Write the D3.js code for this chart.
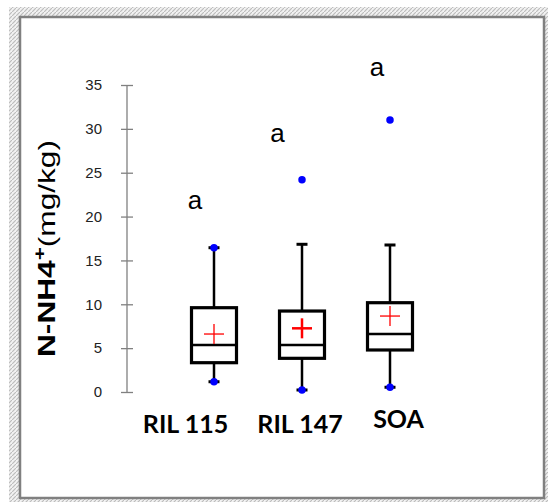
<!DOCTYPE html>
<html><head><meta charset="utf-8">
<script src="https://cdn.jsdelivr.net/npm/d3@7"></script>
<style>body{margin:0;background:#fff}svg{display:block}</style>
</head><body>
<script>
// ---- data ----
const categories = ["RIL 115", "RIL 147", "SOA"];
const q1 =          [3.34, 3.84, 4.79];
const median =      [5.36, 5.36, 6.61];
const q3 =          [9.61, 9.23, 10.18];
const mean =        [6.61, 7.26, 8.66];
const whiskerLow =  [1.17, 0.23, 0.54];
const whiskerHigh = [16.45, 16.84, 16.76];
const minVal =      [1.17, 0.23, 0.54];
const maxVal =      [16.45, 24.2, 31.0];
const letters =     ["a", "a", "a"];
const letterLevel = [20.9, 28.5, 36.0];
const yTicks =      [0, 5, 10, 15, 20, 25, 30, 35];

// ---- layout ----
const W = 548, H = 502;
const svg = d3.select("body").append("svg").attr("width", W).attr("height", H);

// hatched frame
const defs = svg.append("defs");
const pat = defs.append("pattern").attr("id", "hatch").attr("patternUnits", "userSpaceOnUse")
  .attr("width", 4).attr("height", 4);
pat.append("rect").attr("width", 4).attr("height", 4).attr("fill", "#f2f2f2");
pat.append("path").attr("d", "M-1,5 L5,-1").attr("stroke", "#bdbdbd").attr("stroke-width", 1.2);
svg.append("rect").attr("x", 9).attr("y", 7).attr("width", W - 9).attr("height", H - 7).attr("fill", "url(#hatch)");
svg.append("rect").attr("x", 20).attr("y", 17).attr("width", 524).attr("height", 481)
  .attr("fill", "#fff").attr("stroke", "#808080").attr("stroke-width", 2.5);

const y = d3.scaleLinear().domain([0, 35]).range([392, 85]);
const x = d3.scaleBand().domain(categories).range([170, 434]).paddingInner(0);
const bw = 45;
const cx = c => x(c) + x.bandwidth() / 2;

// y axis
const axisX = 127;
const gy = svg.append("g").attr("transform", `translate(${axisX},0)`)
  .call(d3.axisLeft(y).tickValues(yTicks).tickSize(6).tickPadding(19));
gy.select(".domain").attr("stroke", "#808080").attr("stroke-width", 1.3).attr("d", `M0,${y(0)}V${y(35)}`);
gy.selectAll(".tick line").attr("stroke", "#808080").attr("stroke-width", 1.3).attr("x1", 6).attr("x2", -6);
gy.selectAll(".tick text").attr("font-family", "'Liberation Sans Narrow','Liberation Sans',sans-serif")
  .attr("font-size", 15).attr("fill", "#222");

// y title
const yt = svg.append("text").attr("transform", "translate(55,248.5) rotate(-90)")
  .attr("text-anchor", "middle").attr("font-family", "'Liberation Sans',sans-serif")
  .attr("font-size", 24).attr("fill", "#000")
  .attr("textLength", 217).attr("lengthAdjust", "spacingAndGlyphs");
yt.append("tspan").attr("font-weight", "bold").text("N-NH4");
yt.append("tspan").attr("font-weight", "bold").attr("font-size", 17).attr("dy", -10).text("+");
yt.append("tspan").attr("dy", 10).text("(mg/kg)");

// boxes
const g = svg.append("g");
categories.forEach((c, i) => {
  const xc = cx(c);
  g.append("line").attr("x1", xc).attr("x2", xc).attr("y1", y(q3[i])).attr("y2", y(whiskerHigh[i]))
    .attr("stroke", "#000").attr("stroke-width", 2.5);
  g.append("line").attr("x1", xc).attr("x2", xc).attr("y1", y(q1[i])).attr("y2", y(whiskerLow[i]))
    .attr("stroke", "#000").attr("stroke-width", 2.5);
  [whiskerHigh[i], whiskerLow[i]].forEach(v => {
    g.append("line").attr("x1", xc - 5.5).attr("x2", xc + 5.5).attr("y1", y(v)).attr("y2", y(v))
      .attr("stroke", "#000").attr("stroke-width", 3);
  });
  g.append("rect").attr("x", xc - bw / 2).attr("y", y(q3[i])).attr("width", bw)
    .attr("height", y(q1[i]) - y(q3[i])).attr("fill", "none").attr("stroke", "#000").attr("stroke-width", 3.2);
  g.append("line").attr("x1", xc - bw / 2).attr("x2", xc + bw / 2).attr("y1", y(median[i])).attr("y2", y(median[i]))
    .attr("stroke", "#000").attr("stroke-width", 2.5);
  const sw = i === 1 ? 2.5 : 1.3;
  g.append("line").attr("x1", xc - 10).attr("x2", xc + 10).attr("y1", y(mean[i])).attr("y2", y(mean[i]))
    .attr("stroke", "#ff0000").attr("stroke-width", sw);
  g.append("line").attr("x1", xc).attr("x2", xc).attr("y1", y(mean[i]) - 10).attr("y2", y(mean[i]) + 10)
    .attr("stroke", "#ff0000").attr("stroke-width", sw);
  [minVal[i], maxVal[i]].forEach(v => {
    g.append("path").attr("transform", `translate(${xc},${y(v)})`)
      .attr("d", d3.symbol(d3.symbolCircle, 44)()).attr("fill", "#0000ff");
  });
});

// letters
const letterDx = [-19, -24.5, -13];
svg.append("g").selectAll("text").data(categories).join("text")
  .attr("x", (c, i) => cx(c) + letterDx[i]).attr("y", (c, i) => y(letterLevel[i]))
  .attr("text-anchor", "middle").attr("font-family", "'Liberation Sans Narrow','Liberation Sans',sans-serif")
  .attr("font-size", 26).attr("fill", "#000").text((c, i) => letters[i]);

// category labels
const labelDx = [-28.5, -2, 8.5];
const labelDy = [433, 433, 428];
svg.append("g").selectAll("text").data(categories).join("text")
  .attr("x", (c, i) => cx(c) + labelDx[i]).attr("y", (c, i) => labelDy[i])
  .attr("text-anchor", "middle").attr("font-family", "Lato,'Liberation Sans',sans-serif")
  .attr("font-weight", "bold").attr("font-size", 25).attr("fill", "#000").text(c => c);
</script>
</body></html>
